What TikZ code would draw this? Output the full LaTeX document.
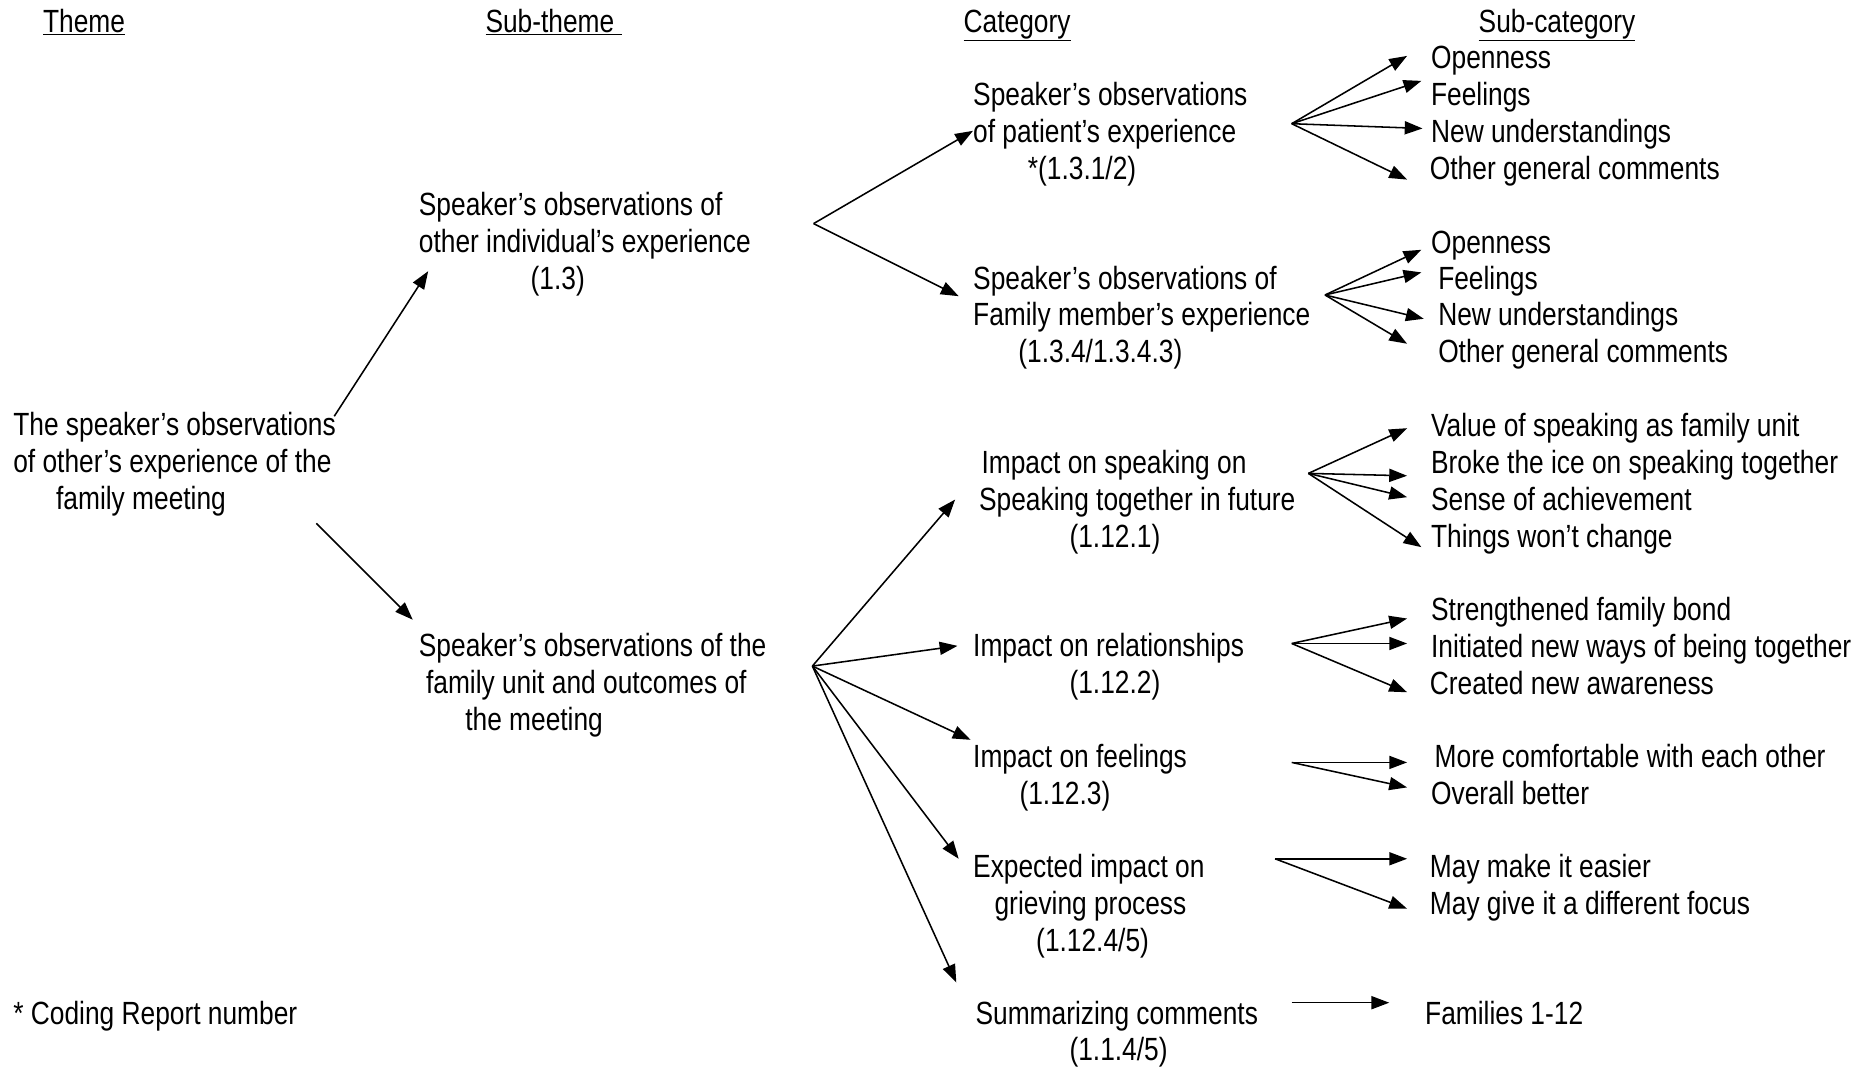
\documentclass[tikz,border=0pt]{standalone}
\usepackage{fontspec}
\setmainfont{Liberation Sans}[FakeStretch=0.82]
\usetikzlibrary{arrows.meta}
\begin{document}
\begin{tikzpicture}[x=1pt,y=-1pt,
  txt/.style={anchor=base west, inner sep=0pt, align=left, font=\fontsize{27}{31}\selectfont},
  conn/.style={line width=1.3pt, -{Triangle[length=15pt,width=11pt]}}]
\useasboundingbox (0,0) rectangle (1568,898);
% headers
\node[txt] (h1) at (36,27) {\underline{Theme}};
\node[txt] (h2) at (408,27) {\underline{Sub-theme\ }};
\node[txt] (h3) at (810,27) {\underline{Category}};
\node[txt] (h4) at (1243,27) {\underline{Sub-category}};
% theme (anchor = baseline of last line)
\node[txt] (theme) at (11,428) {The speaker's observations\\of other's experience of the\\\hspace*{36pt}family meeting};
% sub-themes
\node[txt] (sub1) at (352,243) {Speaker's observations of\\other individual's experience\\\hspace*{94pt}(1.3)};
\node[txt] (sub2) at (352,614) {Speaker's observations of the\\\hspace*{6pt}family unit and outcomes of\\\hspace*{39pt}the meeting};
% categories
\node[txt] (cat1) at (818,151) {Speaker's observations\\of patient's experience\\\hspace*{46pt}*(1.3.1/2)};
\node[txt] (cat2) at (818,305) {Speaker's observations of\\Family member's experience\\\hspace*{38pt}(1.3.4/1.3.4.3)};
\node[txt] (cat3) at (823,460) {\hspace*{2pt}Impact on speaking on\\Speaking together in future\\\hspace*{76pt}(1.12.1)};
\node[txt] (cat4) at (818,583) {Impact on relationships\\\hspace*{81pt}(1.12.2)};
\node[txt] (cat5) at (818,676) {Impact on feelings\\\hspace*{39pt}(1.12.3)};
\node[txt] (cat6) at (818,800) {Expected impact on\\\hspace*{18pt}grieving process\\\hspace*{53pt}(1.12.4/5)};
\node[txt] (cat7) at (820,892) {Summarizing comments\\\hspace*{79pt}(1.1.4/5)};
\node[txt] (note) at (11,861) {* Coding Report number};
% sub-categories
\node[txt] (s11) at (1203,58) {Openness};
\node[txt] (s12) at (1203,89) {Feelings};
\node[txt] (s13) at (1203,120) {New understandings};
\node[txt] (s14) at (1202,151) {Other general comments};
\node[txt] (s21) at (1203,213) {Openness};
\node[txt] (s22) at (1209,243) {Feelings};
\node[txt] (s23) at (1209,274) {New understandings};
\node[txt] (s24) at (1209,305) {Other general comments};
\node[txt] (s31) at (1203,367) {Value of speaking as family unit};
\node[txt] (s32) at (1203,398) {Broke the ice on speaking together};
\node[txt] (s33) at (1203,429) {Sense of achievement};
\node[txt] (s34) at (1203,460) {Things won't change};
\node[txt] (s41) at (1203,522) {Strengthened family bond};
\node[txt] (s42) at (1203,553) {Initiated new ways of being together};
\node[txt] (s43) at (1202,584) {Created new awareness};
\node[txt] (s51) at (1206,645) {More comfortable with each other};
\node[txt] (s52) at (1203,676) {Overall better};
\node[txt] (s61) at (1202,738) {May make it easier};
\node[txt] (s62) at (1202,769) {May give it a different focus};
\node[txt] (s71) at (1198,861) {Families 1-12};
% connector coordinates
\coordinate (t1) at (281,350); \coordinate (t1e) at (360,228);
\coordinate (t2) at (266,440); \coordinate (t2e) at (347,521);
\coordinate (v1) at (684,188); \coordinate (v1a) at (818,110); \coordinate (v1b) at (806,249);
\coordinate (v2) at (683,560);
\coordinate (v2a) at (803,420); \coordinate (v2b) at (805,543); \coordinate (v2c) at (816,622);
\coordinate (v2d) at (806,722); \coordinate (v2e) at (804,826);
\coordinate (c1) at (1086,104);
\coordinate (c1a) at (1183,47); \coordinate (c1b) at (1195,68); \coordinate (c1c) at (1196,108); \coordinate (c1d) at (1183,151);
\coordinate (c2) at (1114,248);
\coordinate (c2a) at (1195,210); \coordinate (c2b) at (1195,229); \coordinate (c2c) at (1197,268); \coordinate (c2d) at (1183,289);
\coordinate (c3) at (1100,398);
\coordinate (c3a) at (1183,360); \coordinate (c3b) at (1183,400); \coordinate (c3c) at (1183,418); \coordinate (c3d) at (1195,460);
\coordinate (c4) at (1086,541);
\coordinate (c4a) at (1183,520); \coordinate (c4b) at (1183,541); \coordinate (c4c) at (1183,582);
\coordinate (c5) at (1086,641);
\coordinate (c5a) at (1183,641); \coordinate (c5b) at (1183,662);
\coordinate (c6) at (1072,722);
\coordinate (c6a) at (1183,722); \coordinate (c6b) at (1183,764);
\coordinate (c7) at (1086,843); \coordinate (c7a) at (1168,843);
% connectors
\draw[conn] (t1) -- (t1e);
\draw[conn] (t2) -- (t2e);
\foreach \e in {v1a,v1b} \draw[conn] (v1) -- (\e);
\foreach \e in {v2a,v2b,v2c,v2d,v2e} \draw[conn] (v2) -- (\e);
\foreach \e in {c1a,c1b,c1c,c1d} \draw[conn] (c1) -- (\e);
\foreach \e in {c2a,c2b,c2c,c2d} \draw[conn] (c2) -- (\e);
\foreach \e in {c3a,c3b,c3c,c3d} \draw[conn] (c3) -- (\e);
\foreach \e in {c4a,c4b,c4c} \draw[conn] (c4) -- (\e);
\foreach \e in {c5a,c5b} \draw[conn] (c5) -- (\e);
\foreach \e in {c6a,c6b} \draw[conn] (c6) -- (\e);
\draw[conn] (c7) -- (c7a);
\end{tikzpicture}
\end{document}
